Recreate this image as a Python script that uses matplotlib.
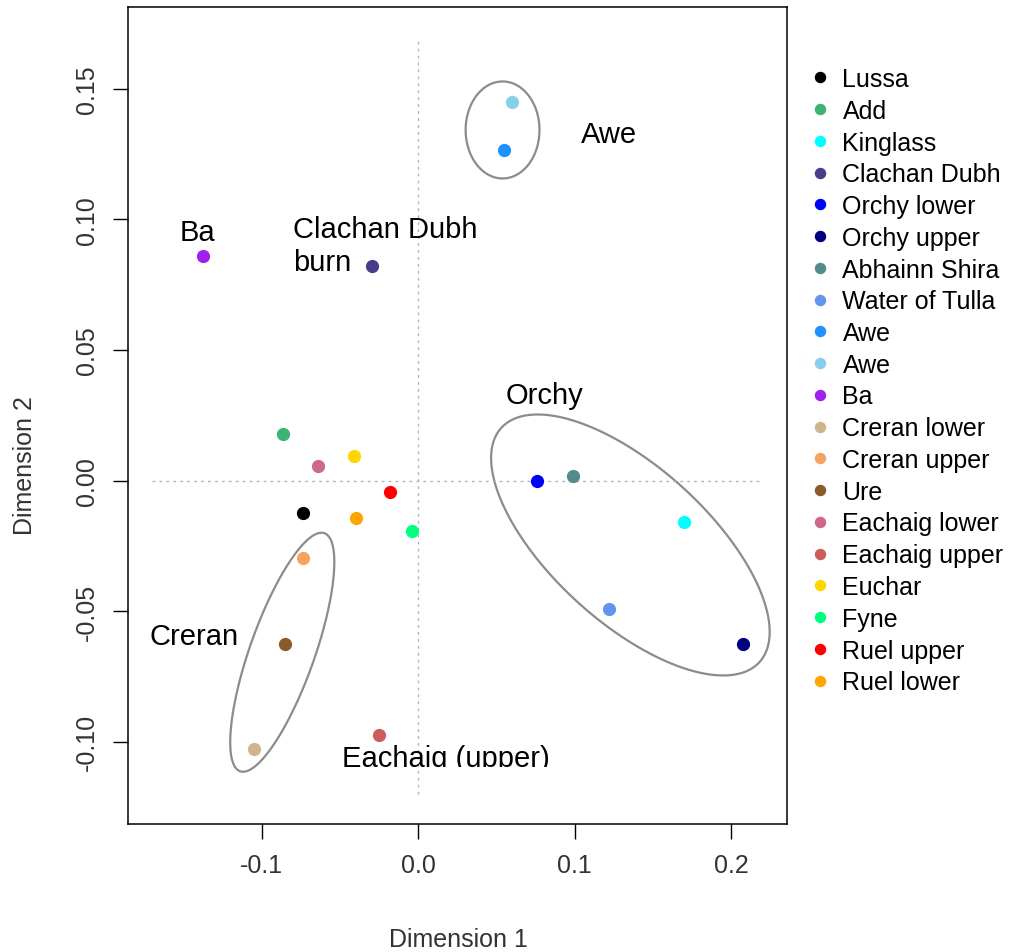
import matplotlib
matplotlib.use("Agg")
import matplotlib.pyplot as plt
import numpy as np
from matplotlib.patches import Rectangle

plt.rcParams['font.family'] = ['Liberation Sans', 'DejaVu Sans']

# MDS coordinates
sites = ["Lussa", "Add", "Kinglass", "Clachan Dubh", "Orchy lower", "Orchy upper",
         "Abhainn Shira", "Water of Tulla", "Awe", "Awe", "Ba", "Creran lower",
         "Creran upper", "Ure", "Eachaig lower", "Eachaig upper", "Euchar", "Fyne",
         "Ruel upper", "Ruel lower"]
dim1 = [-0.0738, -0.0864, 0.1698, -0.0294, 0.0759, 0.2076,
        0.0991, 0.1221, 0.0546, 0.0600, -0.1378, -0.1053,
        -0.0738, -0.0853, -0.0641, -0.0251, -0.0411, -0.0043,
        -0.0179, -0.0400]
dim2 = [-0.0124, 0.0177, -0.0159, 0.0822, 0.0000, -0.0627,
        0.0018, -0.0492, 0.1267, 0.1449, 0.0860, -0.1030,
        -0.0298, -0.0627, 0.0057, -0.0974, 0.0095, -0.0194,
        -0.0045, -0.0145]
colors = ["black", "#3CB371", "cyan", "#483D8B", "blue", "#000080",
          "#528B8B", "#6495ED", "#1E90FF", "#87CEEB", "#A020F0", "#D2B48C",
          "#F4A460", "#8B5A2B", "#CD6889", "#CD5C5C", "#FFD700", "#00FF7F",
          "red", "#FFA500"]

xticks = [-0.1, 0.0, 0.1, 0.2]
yticks = [-0.10, -0.05, 0.00, 0.05, 0.10, 0.15]

fig = plt.figure(figsize=(10.14, 9.53), dpi=100)
ax = fig.add_axes([128/1014, 128/953, 659/1014, 817.5/953])

# R style limits: xlim c(-0.17,0.22), ylim c(-0.12,0.17) + 4%
xl = (-0.17, 0.22)
yl = (-0.12, 0.17)
dx = (xl[1]-xl[0])*0.04
dy = (yl[1]-yl[0])*0.04
ax.set_xlim(xl[0]-dx, xl[1]+dx)
ax.set_ylim(yl[0]-dy, yl[1]+dy)

ax.plot(xl, [0, 0], ls=(0, (2, 3)), color="#b5b5b5", lw=1)
ax.plot([0, 0], yl, ls=(0, (2, 3)), color="#b5b5b5", lw=1)

for s, x, y, c in zip(sites, dim1, dim2, colors):
    ax.plot(x, y, marker="o", ms=8.5, ls="none", color=c, mec=c, label=s)

# ellipses (drawn in screen proportions)
bb = ax.get_window_extent()
r = (bb.height/(ax.get_ylim()[1]-ax.get_ylim()[0])) / (bb.width/(ax.get_xlim()[1]-ax.get_xlim()[0]))

def ellipse(cx, cy, a, b, ang):
    t = np.linspace(0, 2*np.pi, 300, endpoint=False)
    th = np.deg2rad(ang)
    x = cx + a*np.cos(t)*np.cos(th) - b*np.sin(t)*np.sin(th)
    y = cy + (a*np.cos(t)*np.sin(th) + b*np.sin(t)*np.cos(th))/r
    ax.fill(x, y, fill=False, ec="#8c8c8c", lw=1.6)

ellipse(0.0538, 0.1343, 0.0236, 0.0310, 0)
ellipse(-0.0870, -0.0658, 0.0807, 0.0207, 70.5)
ellipse(0.1355, -0.0247, 0.1114, 0.0497, -42.2)

fs = 21
ax.text(-0.1412, 0.0953, "Ba", ha="center", va="center", fontsize=fs)
ax.text(-0.0802, 0.0962, "Clachan Dubh", ha="left", va="center", fontsize=fs)
ax.text(-0.0802, 0.0836, "burn", ha="left", va="center", fontsize=fs)
ax.text(0.1221, 0.1329, "Awe", ha="center", va="center", fontsize=fs)
ax.text(0.0806, 0.0327, "Orchy", ha="center", va="center", fontsize=fs)
ax.text(-0.1434, -0.0595, "Creran", ha="center", va="center", fontsize=fs)
t = ax.text(0.0177, -0.1094, "Eachaig (upper)", ha="center", va="baseline", fontsize=fs)
clip = Rectangle((-0.5, -0.1097), 1.0, 1.0, transform=ax.transData)
t.set_clip_path(clip)
t.set_clip_on(True)

ax.set_xticks(xticks)
ax.set_xticklabels(["%.1f" % v for v in xticks])
ax.set_yticks(yticks)
ax.set_yticklabels(["%.2f" % v for v in yticks], rotation=90, va="center")
ax.tick_params(length=11, width=1, labelsize=18, pad=10, labelcolor="#333333")
for sp in ax.spines.values():
    sp.set_linewidth(1.1)

fig.text(458/1014, 1-940/953, "Dimension 1", ha="center", va="center", fontsize=18, color="#333333")
fig.text(25/1014, 1-466/953, "Dimension 2", ha="center", va="center", fontsize=18,
         rotation=90, color="#333333")

fig.legend(loc="upper left", bbox_to_anchor=(810/1014, 1-68/953), frameon=False,
           fontsize=18, handlelength=0.8, handletextpad=0.5, labelspacing=0.31,
           borderpad=0, borderaxespad=0, markerscale=0.85)

fig.savefig("out.png", dpi=100)
